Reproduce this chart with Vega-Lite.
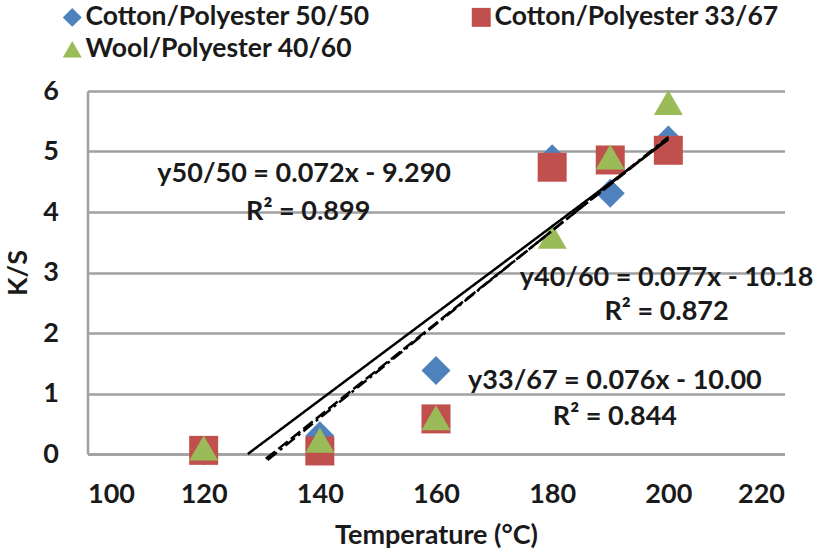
{
  "$schema": "https://vega.github.io/schema/vega-lite/v6.json",
  "width": 697,
  "height": 363,
  "autosize": {"type": "none"},
  "padding": {"left": 87.5, "top": 91, "right": 34.5, "bottom": 104},
  "background": "white",
  "config": {
    "font": "Lato",
    "view": {"stroke": null},
    "axis": {
      "labelFont": "Lato", "labelFontWeight": "bold", "labelFontSize": 27, "labelColor": "#1a1a1a",
      "titleFont": "Lato", "titleFontWeight": "bold", "titleFontSize": 27, "titleColor": "#1a1a1a",
      "domainColor": "#a0a0a0", "domainWidth": 2.5, "gridColor": "#a0a0a0", "gridWidth": 2.5, "gridOpacity": 1,
      "ticks": false
    }
  },
  "datasets": {
    "pts": [
      {"series": "Cotton/Polyester 50/50", "x": 120, "y": 0.05},
      {"series": "Cotton/Polyester 50/50", "x": 140, "y": 0.3},
      {"series": "Cotton/Polyester 50/50", "x": 160, "y": 1.38},
      {"series": "Cotton/Polyester 50/50", "x": 180, "y": 4.88},
      {"series": "Cotton/Polyester 50/50", "x": 190, "y": 4.31},
      {"series": "Cotton/Polyester 50/50", "x": 200, "y": 5.19},
      {"series": "Cotton/Polyester 33/67", "x": 120, "y": 0.06},
      {"series": "Cotton/Polyester 33/67", "x": 140, "y": 0.05},
      {"series": "Cotton/Polyester 33/67", "x": 160, "y": 0.58},
      {"series": "Cotton/Polyester 33/67", "x": 180, "y": 4.74},
      {"series": "Cotton/Polyester 33/67", "x": 190, "y": 4.86},
      {"series": "Cotton/Polyester 33/67", "x": 200, "y": 5.02},
      {"series": "Wool/Polyester 40/60", "x": 120, "y": 0.1},
      {"series": "Wool/Polyester 40/60", "x": 140, "y": 0.23},
      {"series": "Wool/Polyester 40/60", "x": 160, "y": 0.6},
      {"series": "Wool/Polyester 40/60", "x": 180, "y": 3.6},
      {"series": "Wool/Polyester 40/60", "x": 190, "y": 4.91},
      {"series": "Wool/Polyester 40/60", "x": 200, "y": 5.81}
    ],
    "trend": [
      {"fit": "50/50", "x": 127.6, "y": 0},
      {"fit": "50/50", "x": 200, "y": 5.2},
      {"fit": "33/67", "x": 130.7, "y": -0.08},
      {"fit": "33/67", "x": 200, "y": 5.22},
      {"fit": "40/60", "x": 131.0, "y": -0.1},
      {"fit": "40/60", "x": 200, "y": 5.24}
    ],
    "notes": [
      {"x": 137.3, "y": 4.63, "label": "y50/50 = 0.072x - 9.290"},
      {"x": 138.0, "y": 4.0, "label": "R² = 0.899"},
      {"x": 199.7, "y": 2.91, "label": "y40/60 = 0.077x - 10.18"},
      {"x": 199.7, "y": 2.35, "label": "R² = 0.872"},
      {"x": 190.8, "y": 1.21, "label": "y33/67 = 0.076x - 10.00"},
      {"x": 190.8, "y": 0.61, "label": "R² = 0.844"}
    ]
  },
  "encoding": {
    "x": {
      "field": "x", "type": "quantitative",
      "scale": {"domain": [100, 220], "nice": false, "zero": false},
      "axis": {"values": [100, 120, 140, 160, 180, 200, 220], "grid": false, "labelPadding": 27, "title": "Temperature (°C)", "titlePadding": 15}
    },
    "y": {
      "field": "y", "type": "quantitative",
      "scale": {"domain": [0, 6], "nice": false},
      "axis": {"values": [0, 1, 2, 3, 4, 5, 6], "grid": true, "labelPadding": 29, "title": "K/S", "titlePadding": 10, "format": "d"}
    }
  },
  "layer": [
    {
      "data": {"name": "pts"},
      "mark": {"type": "point", "filled": true, "size": 841, "opacity": 1, "strokeWidth": 0},
      "encoding": {
        "color": {
          "field": "series", "type": "nominal",
          "scale": {"domain": ["Cotton/Polyester 50/50", "Cotton/Polyester 33/67", "Wool/Polyester 40/60"], "range": ["#4F81BD", "#C0504D", "#9BBB59"]},
          "legend": {
            "orient": "none", "legendX": -28.5, "legendY": -87, "columns": 2, "direction": "horizontal", "columnPadding": 98, "rowPadding": 5,
            "title": null, "padding": 0, "symbolSize": 360, "labelOffset": 0, "labelLimit": 500,
            "labelFont": "Lato", "labelFontWeight": "bold", "labelFontSize": 26.5, "labelColor": "#1a1a1a"
          }
        },
        "shape": {
          "field": "series", "type": "nominal",
          "scale": {"domain": ["Cotton/Polyester 50/50", "Cotton/Polyester 33/67", "Wool/Polyester 40/60"], "range": ["diamond", "square", "triangle-up"]},
          "legend": {
            "orient": "none", "legendX": -28.5, "legendY": -87, "columns": 2, "direction": "horizontal", "columnPadding": 98, "rowPadding": 5,
            "title": null, "padding": 0, "symbolSize": 360, "labelOffset": 0, "labelLimit": 500,
            "labelFont": "Lato", "labelFontWeight": "bold", "labelFontSize": 26.5, "labelColor": "#1a1a1a"
          }
        }
      }
    },
    {
      "data": {"name": "trend"},
      "mark": {"type": "line", "color": "black", "strokeWidth": 2.5, "clip": false},
      "encoding": {
        "strokeDash": {
          "field": "fit", "type": "nominal",
          "scale": {"domain": ["50/50", "33/67", "40/60"], "range": [[1, 0], [12, 4], [12, 4, 3, 4]]},
          "legend": null
        }
      }
    },
    {
      "data": {"name": "notes"},
      "mark": {"type": "text", "font": "Lato", "fontWeight": "bold", "fontSize": 27, "color": "#1a1a1a", "align": "center", "baseline": "middle"},
      "encoding": {"text": {"field": "label", "type": "nominal"}}
    }
  ]
}
